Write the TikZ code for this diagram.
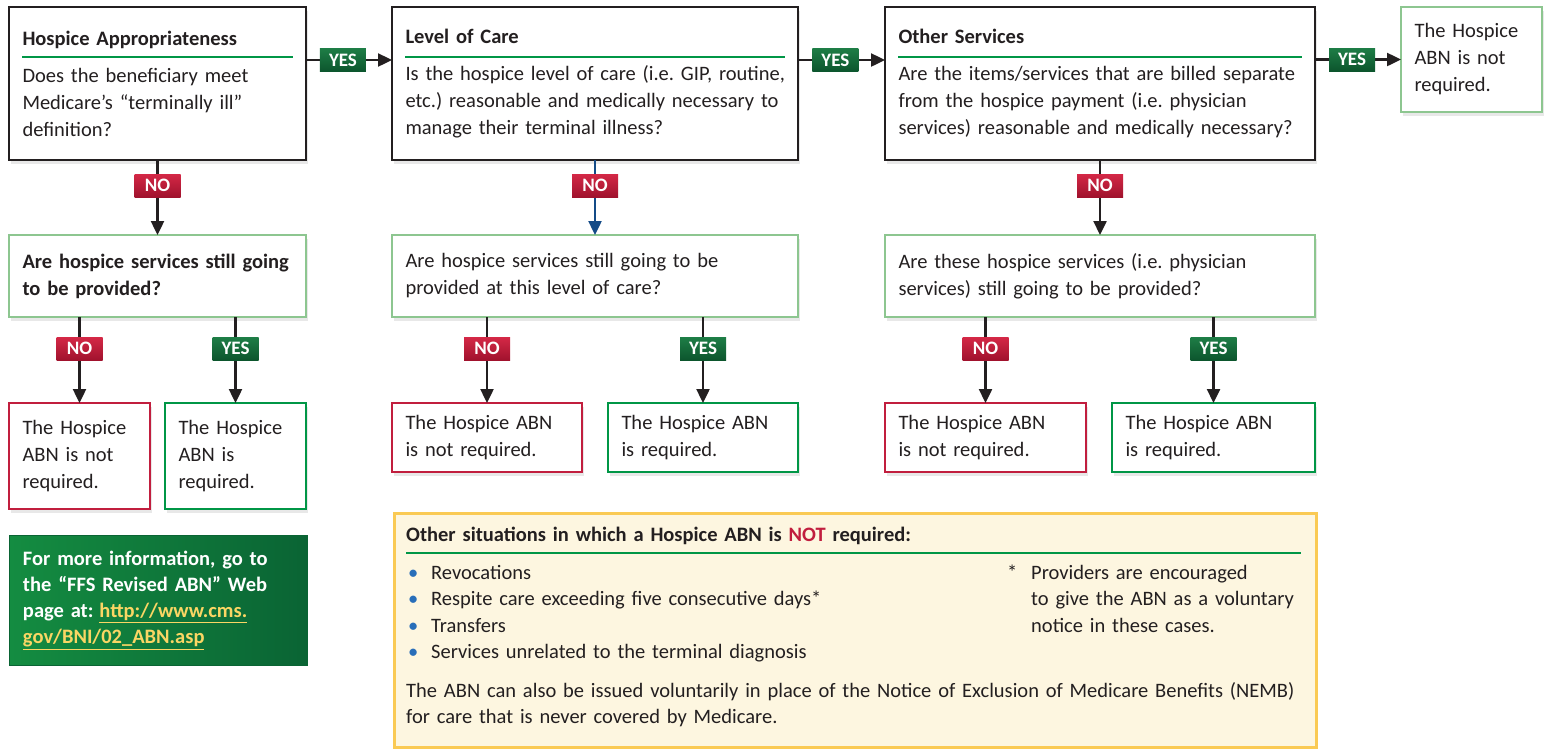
\documentclass[tikz,border=0pt]{standalone}
\usepackage{fontspec}
\setmainfont{Carlito}
\usepackage{tikz}
\usetikzlibrary{positioning, arrows.meta, shadows}
\frenchspacing
\definecolor{ink}{RGB}{35,31,32}
\definecolor{palegreen}{RGB}{141,198,144}
\definecolor{okgreen}{RGB}{0,150,70}
\definecolor{notred}{RGB}{193,30,62}
\definecolor{yestop}{RGB}{30,125,70}
\definecolor{yesbottom}{RGB}{12,85,45}
\definecolor{notop}{RGB}{212,40,70}
\definecolor{nobottom}{RGB}{160,18,45}
\definecolor{noblue}{RGB}{20,75,135}
\definecolor{infoleft}{RGB}{20,140,65}
\definecolor{inforight}{RGB}{10,100,52}
\definecolor{linkyellow}{RGB}{250,214,100}
\definecolor{notefill}{RGB}{253,246,224}
\definecolor{noteborder}{RGB}{250,202,84}
\definecolor{bulletblue}{RGB}{40,110,185}
\tikzstyle{arrow} = [line width=2.4pt, draw=ink, -{Triangle[length=14pt,width=13pt]}]
\tikzstyle{bluearrow} = [arrow, draw=noblue]
\tikzstyle{basebox} = [rectangle, fill=white, line width=2.5pt, outer sep=0pt, align=left, inner xsep=13.5pt, text=ink, font=\fontsize{20.5}{27}\selectfont, drop shadow={opacity=0.18, shadow xshift=2pt, shadow yshift=-4pt}]
\tikzstyle{question} = [basebox, draw=ink, minimum height=153pt]
\tikzstyle{followup} = [basebox, draw=palegreen, minimum height=82pt]
\tikzstyle{notreq} = [basebox, draw=notred]
\tikzstyle{isreq} = [basebox, draw=okgreen]
\tikzstyle{headrule} = [draw=okgreen, line width=1.2pt]
\tikzstyle{yeslab} = [rectangle, top color=yestop, bottom color=yesbottom, text=white, font=\fontsize{19}{19}\selectfont\bfseries, minimum width=46pt, minimum height=23pt, inner sep=0pt]
\tikzstyle{nolab} = [yeslab, top color=notop, bottom color=nobottom]
\tikzstyle{infobox} = [rectangle, left color=infoleft, right color=inforight, draw=inforight, line width=1pt, align=left, inner xsep=13.5pt, text=white, font=\fontsize{20.5}{26}\selectfont\bfseries]
\tikzstyle{notebox} = [rectangle, fill=notefill, draw=noteborder, line width=2.5pt]
\tikzstyle{notetext} = [inner sep=0pt, align=left, text=ink, font=\fontsize{20.5}{26.5}\selectfont]
\newcommand{\weblink}[1]{\textcolor{linkyellow}{\underline{#1}}}
\newcommand{\dotitem}[1]{\makebox[25pt][l]{\hspace{2pt}\textcolor{bulletblue}{\textbullet}}#1}
\begin{document}
\begin{tikzpicture}[x=1pt, y=-1pt]
\useasboundingbox (0,0) rectangle (1546,748);

% questions
\node (q1) [question, anchor=north west, text width=270pt] at (9,7) {\textbf{Hospice Appropriateness}\\[10pt]Does the beneficiary meet\\Medicare’s “terminally ill”\\definition?};
\node (q2) [question, right=86pt of q1, text width=379pt] {\textbf{Level of Care}\\[10pt]\mbox{Is the hospice level of care (i.e. GIP, routine,}\\etc.) reasonable and medically necessary to\\manage their terminal illness?};
\node (q3) [question, right=87pt of q2, text width=403pt] {\textbf{Other Services}\\[10pt]Are the items/services that are billed separate\\from the hospice payment (i.e. physician\\services) reasonable and medically necessary?};
\node (q4) [basebox, draw=palegreen, right=86pt of q3.north east, anchor=north west, text width=114pt, minimum height=105pt] {The Hospice\\ABN is not\\required.};

\draw [headrule] ([xshift=13pt,yshift=-50pt]q1.north west) -- ([xshift=-13pt,yshift=-50pt]q1.north east);
\draw [headrule] ([xshift=13pt,yshift=-50pt]q2.north west) -- ([xshift=-13pt,yshift=-50pt]q2.north east);
\draw [headrule] ([xshift=13pt,yshift=-50pt]q3.north west) -- ([xshift=-13pt,yshift=-50pt]q3.north east);

% still provided?
\node (q1b) [followup, below=75pt of q1, text width=270pt] {\textbf{Are hospice services still going}\\\textbf{to be provided?}};
\node (q2b) [followup, below=75pt of q2, text width=379pt] {Are hospice services still going to be\\provided at this level of care?};
\node (q3b) [followup, below=75pt of q3, text width=403pt] {Are these hospice services (i.e. physician\\services) still going to be provided?};

% answers
\node (r1) [notreq, below=86pt of q1b.south west, anchor=north west, text width=114pt, minimum height=106pt] {The Hospice\\ABN is not\\required.};
\node (g1) [isreq, below=86pt of q1b.south east, anchor=north east, text width=114pt, minimum height=106pt] {The Hospice\\ABN is\\required.};
\node (r2) [notreq, below=86pt of q2b.south west, anchor=north west, text width=163pt, minimum height=69pt] {The Hospice ABN\\is not required.};
\node (g2) [isreq, below=86pt of q2b.south east, anchor=north east, text width=163pt, minimum height=69pt] {The Hospice ABN\\is required.};
\node (r3) [notreq, below=86pt of q3b.south west, anchor=north west, text width=174pt, minimum height=69pt] {The Hospice ABN\\is not required.};
\node (g3) [isreq, below=86pt of q3b.south east, anchor=north east, text width=176pt, minimum height=69pt] {The Hospice ABN\\is required.};

% yes / no arrows
\draw [arrow] ([yshift=23.5pt]q1.east) -- ([yshift=23.5pt]q2.west) node[yeslab, pos=0.43] {YES};
\draw [arrow] ([yshift=23.5pt]q2.east) -- ([yshift=23.5pt]q3.west) node[yeslab, pos=0.43] {YES};
\draw [arrow] (q3.east |- q4.west) -- (q4.west) node[yeslab, pos=0.43] {YES};
\draw [arrow] (q1) -- (q1b) node[nolab, pos=0.34] {NO};
\draw [bluearrow] (q2) -- (q2b) node[nolab, pos=0.34] {NO};
\draw [arrow] (q3) -- (q3b) node[nolab, pos=0.34] {NO};
\draw [arrow] (q1b.south -| r1.north) -- (r1.north) node[nolab, pos=0.37] {NO};
\draw [arrow] (q1b.south -| g1.north) -- (g1.north) node[yeslab, pos=0.37] {YES};
\draw [arrow] (q2b.south -| r2.north) -- (r2.north) node[nolab, pos=0.37] {NO};
\draw [arrow] (q2b.south -| g2.north) -- (g2.north) node[yeslab, pos=0.37] {YES};
\draw [arrow] (q3b.south -| r3.north) -- (r3.north) node[nolab, pos=0.37] {NO};
\draw [arrow] (q3b.south -| g3.north) -- (g3.north) node[yeslab, pos=0.37] {YES};

% more info
\node (info) [infobox, anchor=north west, text width=271pt, minimum height=130pt] at (9,535) {For more information, go to\\the “FFS Revised ABN” Web\\page at:\hspace{6pt}\weblink{http://www.cms.}\\\weblink{gov/BNI/02\_ABN.asp}};

% other situations
\node (notes) [notebox, anchor=north west, minimum width=922pt, minimum height=234pt] at (393,512) {};
\node (notehead) [notetext, anchor=base west, text width=890pt] at (406,541) {\textbf{Other situations in which a Hospice ABN is \textcolor{notred}{NOT} required:}};
\draw [headrule] (406,553) -- (1301,553);
\node (notelist) [notetext, anchor=base west, text width=560pt] at (406,579) {\dotitem{Revocations}\\\dotitem{Respite care exceeding five consecutive days*}\\\dotitem{Transfers}\\\dotitem{Services unrelated to the terminal diagnosis}};
\node (footnote) [notetext, anchor=base west, text width=300pt] at (1007,579) {\makebox[24pt][l]{*}Providers are encouraged\\\hspace*{24pt}to give the ABN as a voluntary\\\hspace*{24pt}notice in these cases.};
\node (noteend) [notetext, anchor=base west, text width=905pt] at (406,697) {The ABN can also be issued voluntarily in place of the Notice of Exclusion of Medicare Benefits (NEMB)\\for care that is never covered by Medicare.};
\end{tikzpicture}
\end{document}
